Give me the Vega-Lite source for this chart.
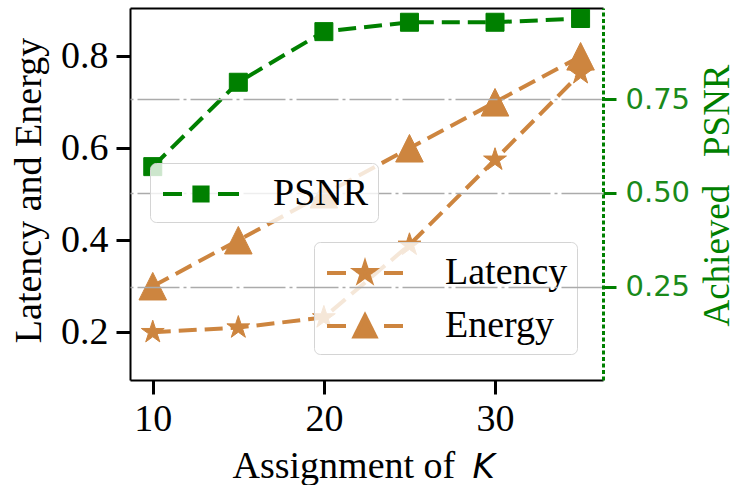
{
  "$schema": "https://vega.github.io/schema/vega-lite/v6.json",
  "width": 473,
  "height": 372,
  "autosize": {"type": "none"},
  "padding": {"left": 130, "top": 8, "right": 132, "bottom": 105},
  "background": "white",
  "config": {
    "view": {"stroke": null},
    "axis": {"labelFont": "Liberation Serif", "titleFont": "Liberation Serif", "titleFontWeight": "normal"}
  },
  "data": {
    "values": [
      {"K": 10, "series": "Latency", "value": 0.20},
      {"K": 15, "series": "Latency", "value": 0.21},
      {"K": 20, "series": "Latency", "value": 0.232},
      {"K": 25, "series": "Latency", "value": 0.39},
      {"K": 30, "series": "Latency", "value": 0.575},
      {"K": 35, "series": "Latency", "value": 0.763},
      {"K": 10, "series": "Energy", "value": 0.30},
      {"K": 15, "series": "Energy", "value": 0.40},
      {"K": 20, "series": "Energy", "value": 0.50},
      {"K": 25, "series": "Energy", "value": 0.60},
      {"K": 30, "series": "Energy", "value": 0.70},
      {"K": 35, "series": "Energy", "value": 0.80},
      {"K": 10, "series": "PSNR", "value": 0.57},
      {"K": 15, "series": "PSNR", "value": 0.795},
      {"K": 20, "series": "PSNR", "value": 0.93},
      {"K": 25, "series": "PSNR", "value": 0.955},
      {"K": 30, "series": "PSNR", "value": 0.955},
      {"K": 35, "series": "PSNR", "value": 0.965}
    ]
  },
  "layer": [
    {
      "transform": [{"filter": "datum.series !== 'PSNR'"}],
      "encoding": {
        "x": {
          "field": "K", "type": "quantitative",
          "scale": {"domain": [8.67, 36.31], "nice": false, "zero": false},
          "axis": {
            "orient": "bottom", "values": [10, 20, 30], "grid": false,
            "domainColor": "black", "domainWidth": 2,
            "tickColor": "black", "tickSize": 14, "tickWidth": 3,
            "labelFontSize": 38, "labelColor": "black", "labelPadding": 6,
            "title": "Assignment of", "titleFontSize": 38, "titleColor": "black",
            "titleX": 102, "titleY": 97, "titleAlign": "left", "titleBaseline": "alphabetic", "titleAnchor": "start"
          }
        },
        "y": {
          "field": "value", "type": "quantitative",
          "scale": {"domain": [0.096, 0.905], "nice": false, "zero": false},
          "axis": {
            "orient": "left", "values": [0.2, 0.4, 0.6, 0.8], "format": ".1f", "grid": false,
            "domainColor": "black", "domainWidth": 2,
            "tickColor": "black", "tickSize": 14, "tickWidth": 3,
            "labelFontSize": 38, "labelColor": "black", "labelPadding": 8,
            "title": "Latency and Energy", "titleFontSize": 38, "titleColor": "black",
            "titleX": -90, "titleY": 182, "titleAngle": 270, "titleAlign": "center", "titleBaseline": "alphabetic"
          }
        },
        "color": {
          "field": "series", "type": "nominal",
          "scale": {"domain": ["Latency", "Energy"], "range": ["#CD853F", "#CD853F"]},
          "legend": {
            "title": null, "orient": "none", "legendX": 184, "legendY": 234, "zindex": 0,
            "symbolSize": 1600, "symbolStrokeWidth": 4, "symbolOffset": 20, "labelOffset": 58,
            "padding": 9, "rowPadding": 12,
            "labelFont": "Liberation Serif", "labelFontSize": 38, "labelColor": "black", "labelLimit": 400,
            "strokeColor": "#d4d4d4", "fillColor": "rgba(255,255,255,0.8)", "cornerRadius": 6,
            "encode": {
              "symbols": {
                "update": {
                  "shape": {"signal": "datum.value === 'Latency' ? 'M-1.9,0H-0.95M0.95,0H1.9M0,-0.47L0.105,-0.145L0.447,-0.145L0.17,0.056L0.276,0.38L0,0.179L-0.276,0.38L-0.17,0.056L-0.447,-0.145L-0.105,-0.145Z' : 'M-1.9,0H-0.95M0.95,0H1.9M0,-0.52L0.52,0.52L-0.52,0.52Z'"},
                  "fill": {"value": "#CD853F"},
                  "stroke": {"value": "#CD853F"},
                  "strokeWidth": {"value": 4},
                  "strokeDash": {"value": [1, 0]},
                  "opacity": {"value": 1},
                  "fillOpacity": {"value": 1}
                }
              }
            }
          }
        }
      },
      "layer": [
        {"mark": {"type": "line", "strokeWidth": 4, "strokeDash": [18, 8]}},
        {
          "transform": [{"filter": "datum.series === 'Latency'"}],
          "mark": {"type": "point", "filled": true, "opacity": 1, "size": 576, "strokeWidth": 1, "stroke": "#CD853F",
                   "shape": "M0,-1L0.224,-0.308L0.951,-0.309L0.362,0.118L0.588,0.809L0,0.381L-0.588,0.809L-0.362,0.118L-0.951,-0.309L-0.224,-0.308Z"}
        },
        {
          "transform": [{"filter": "datum.series === 'Energy'"}],
          "mark": {"type": "point", "filled": true, "opacity": 1, "size": 760, "strokeWidth": 1, "stroke": "#CD853F",
                   "shape": "M0,-1L1,1L-1,1Z"}
        }
      ]
    },
    {
      "transform": [{"filter": "datum.series === 'PSNR'"}],
      "encoding": {
        "x": {
          "field": "K", "type": "quantitative",
          "scale": {"domain": [8.67, 36.31], "nice": false, "zero": false},
          "axis": {
            "orient": "top", "labels": false, "ticks": false, "grid": false,
            "domainColor": "black", "domainWidth": 2,
            "title": "K", "titleFont": "DejaVu Sans", "titleFontStyle": "italic", "titleFontSize": 34, "titleColor": "black",
            "titleX": 342, "titleY": 469, "titleAlign": "left", "titleBaseline": "alphabetic", "titleAnchor": "start"
          }
        },
        "y": {
          "field": "value", "type": "quantitative",
          "scale": {"domain": [0.001, 0.993], "nice": false, "zero": false},
          "axis": {
            "orient": "right", "values": [0.25, 0.5, 0.75], "format": ".2f", "zindex": 1,
            "grid": true, "gridColor": "#ababab", "gridWidth": 1.5, "gridDash": [42, 4, 3, 4],
            "domainColor": "#008000", "domainWidth": 3, "domainDash": [4, 2.5],
            "tickColor": "#008000", "tickSize": 13, "tickWidth": 3,
            "labelFont": "DejaVu Sans", "labelFontSize": 29, "labelColor": "#1a8a1a", "labelPadding": 9,
            "title": "Achieved\u00a0\u00a0\u00a0PSNR", "titleFontSize": 37, "titleColor": "#008000",
            "titleX": 125, "titleY": 187, "titleAngle": 270, "titleAlign": "center", "titleBaseline": "alphabetic"
          }
        },
        "color": {
          "field": "series", "type": "nominal",
          "scale": {"domain": ["PSNR"], "range": ["#008000"]},
          "legend": {
            "title": null, "orient": "none", "legendX": 20, "legendY": 155, "zindex": 2,
            "symbolSize": 1600, "symbolStrokeWidth": 4, "symbolOffset": 20, "labelOffset": 50,
            "padding": 9,
            "labelFont": "Liberation Serif", "labelFontSize": 38, "labelColor": "black", "labelLimit": 400,
            "strokeColor": "#d4d4d4", "fillColor": "rgba(255,255,255,0.8)", "cornerRadius": 6,
            "encode": {
              "symbols": {
                "update": {
                  "shape": {"value": "M-1.9,0H-0.95M0.85,0H1.9M-0.33,-0.33H0.33V0.33H-0.33Z"},
                  "fill": {"value": "#008000"},
                  "stroke": {"value": "#008000"},
                  "strokeWidth": {"value": 4},
                  "strokeDash": {"value": [1, 0]},
                  "opacity": {"value": 1},
                  "fillOpacity": {"value": 1}
                }
              }
            }
          }
        }
      },
      "layer": [
        {"mark": {"type": "line", "strokeWidth": 4, "strokeDash": [18, 8]}},
        {"mark": {"type": "point", "filled": true, "opacity": 1, "size": 324, "shape": "square", "strokeWidth": 1, "stroke": "#008000"}}
      ]
    }
  ],
  "resolve": {"scale": {"x": "independent", "y": "independent", "color": "independent"}}
}
